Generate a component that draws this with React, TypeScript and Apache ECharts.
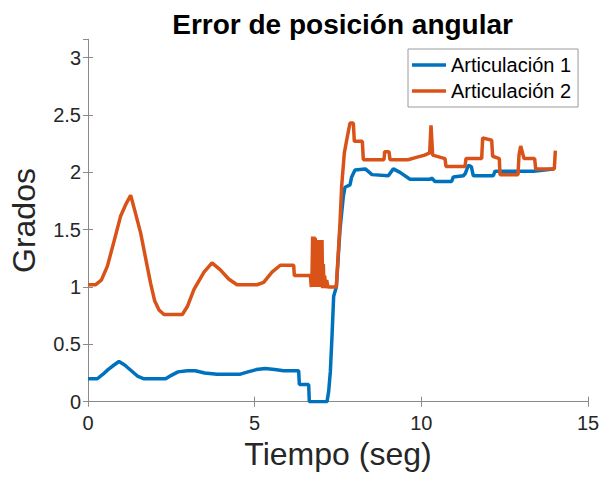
import React, { useEffect, useRef } from "react";
import * as echarts from "echarts";

const title = "Error de posición angular";
const xName = "Tiempo (seg)";
const yName = "Grados";
const seriesNames = ["Articulación 1", "Articulación 2"];

// Articulación 1 (blue)
const tBlue = [
  0, 0.28, 0.45, 0.6, 0.78, 0.93, 1.1, 1.3, 1.5, 1.68, 2.33, 2.5, 2.7, 2.98,
  3.22, 3.5, 3.87, 4.57, 4.8, 5.05, 5.32, 5.6, 5.87, 6.32, 6.34, 6.62, 6.64,
  7.17, 7.22, 7.27, 7.32, 7.37, 7.45, 7.56, 7.66, 7.71, 7.86, 7.91, 8.01, 8.32,
  8.52, 9.01, 9.16, 9.36, 9.66, 10.26, 10.31, 10.41, 10.91, 10.96, 11.26,
  11.32, 11.41, 11.5, 11.56, 12.16, 12.21, 13.36, 13.96,
];
const blueVals = [
  0.2, 0.2, 0.24, 0.28, 0.32, 0.35, 0.32, 0.27, 0.22, 0.2, 0.2, 0.23, 0.26,
  0.27, 0.27, 0.25, 0.24, 0.24, 0.26, 0.28, 0.29, 0.28, 0.27, 0.27, 0.15, 0.15,
  0.0, 0.0, 0.09, 0.26, 0.57, 0.92, 1.0, 1.5, 1.79, 1.87, 1.89, 1.96, 2.02,
  2.03, 1.98, 1.97, 2.03, 2.0, 1.94, 1.94, 1.95, 1.92, 1.92, 1.96, 1.97, 1.99,
  2.06, 2.05, 1.97, 1.97, 2.01, 2.01, 2.03,
];

// Articulación 2 (orange)
const tOrange = [
  0, 0.23, 0.4, 0.58, 0.8, 0.98, 1.15, 1.28, 1.4, 1.58, 1.75, 1.88, 2.0, 2.13,
  2.28, 2.83, 2.98, 3.18, 3.48, 3.72, 3.97, 4.22, 4.47, 5.07, 5.27, 5.52, 5.77,
  6.17, 6.19, 6.67, 6.7, 6.72, 6.74, 6.76, 6.78, 6.8, 6.82, 6.84, 6.86, 6.88,
  6.9, 6.92, 6.94, 6.96, 6.98, 7.0, 7.02, 7.04, 7.06, 7.08, 7.1, 7.13, 7.16,
  7.2, 7.45, 7.56, 7.61, 7.69, 7.76, 7.86, 7.96, 7.99, 8.23, 8.26, 8.88, 8.9,
  9.03, 9.06, 9.6, 9.85, 10.1, 10.25, 10.29, 10.34, 10.71, 10.74, 11.31, 11.34,
  11.81, 11.84, 12.11, 12.14, 12.34, 12.36, 12.9, 12.93, 12.98, 13.08, 13.4,
  13.43, 13.99, 14.02,
];
const orangeVals = [
  1.02, 1.02, 1.06, 1.18, 1.42, 1.62, 1.73, 1.8, 1.67, 1.47, 1.22, 1.03, 0.88,
  0.8, 0.76, 0.76, 0.83, 0.98, 1.13, 1.21, 1.15, 1.07, 1.02, 1.02, 1.04, 1.13,
  1.19, 1.19, 1.1, 1.1, 1.0, 1.1, 1.44, 1.06, 1.44, 1.0, 1.43, 1.05, 1.41, 1.0,
  1.41, 1.04, 1.41, 1.0, 1.4, 1.05, 1.41, 0.99, 1.2, 1.0, 1.1, 0.99, 1.06, 1.0,
  1.0, 1.56, 1.88, 2.17, 2.28, 2.43, 2.43, 2.27, 2.27, 2.11, 2.11, 2.18, 2.18,
  2.11, 2.11, 2.13, 2.15, 2.17, 2.41, 2.15, 2.12, 2.05, 2.05, 2.12, 2.12, 2.3,
  2.28, 2.14, 2.12, 1.98, 1.98, 2.15, 2.23, 2.12, 2.12, 2.03, 2.03, 2.19,
];

const colors = ["#0072BD", "#D95319"];
const FONT = "'Liberation Sans', Arial, Helvetica, sans-serif";
const AXIS_COLOR = "#8a8a8a";
const LABEL_COLOR = "#262626";

export default function App() {
  const ref = useRef<HTMLDivElement>(null);
  useEffect(() => {
    if (!ref.current) return;
    const chart = echarts.init(ref.current, undefined, { renderer: "svg" });
    const axisLine = { show: true, lineStyle: { color: AXIS_COLOR, width: 1 } };
    const axisTick = { show: true, inside: true, length: 5, lineStyle: { color: AXIS_COLOR, width: 1 } };
    chart.setOption({
      animation: false,
      backgroundColor: "#ffffff",
      textStyle: { fontFamily: FONT },
      title: {
        text: title,
        left: 337.6,
        top: 5,
        textAlign: "center",
        textStyle: { fontFamily: FONT, fontSize: 28, fontWeight: "bold", color: "#000" },
      },
      legend: {
        orient: "vertical",
        left: 408,
        top: 49,
        padding: [6, 7, 6, 4],
        itemGap: 6,
        itemWidth: 34,
        itemHeight: 3.5,
        icon: "rect",
        borderColor: "#9a9a9a",
        borderWidth: 1,
        backgroundColor: "#ffffff",
        textStyle: { fontFamily: FONT, fontSize: 20, color: "#000" },
        data: seriesNames,
      },
      grid: { left: 87.3, right: 15, top: 39.3, bottom: 79.3, containLabel: false },
      xAxis: [
        {
          type: "value",
          min: 0,
          max: 15,
          interval: 5,
          position: "bottom",
          axisLine,
          axisTick,
          splitLine: { show: false },
          axisLabel: { fontFamily: FONT, fontSize: 20, color: LABEL_COLOR, margin: 11 },
          name: xName,
          nameLocation: "middle",
          nameGap: 34,
          nameTextStyle: { fontFamily: FONT, fontSize: 32, color: LABEL_COLOR },
        },
        {
          type: "value",
          min: 0,
          max: 15,
          interval: 5,
          position: "top",
          axisLine,
          axisTick,
          splitLine: { show: false },
          axisLabel: { show: false },
        },
      ],
      yAxis: [
        {
          type: "value",
          min: 0,
          max: 3.16,
          interval: 0.5,
          position: "left",
          axisLine,
          axisTick,
          splitLine: { show: false },
          axisLabel: {
            fontFamily: FONT,
            fontSize: 20,
            color: LABEL_COLOR,
            margin: 7,
            showMaxLabel: false,
          },
          name: yName,
          nameLocation: "middle",
          nameGap: 48,
          nameTextStyle: { fontFamily: FONT, fontSize: 32, color: LABEL_COLOR },
        },
        {
          type: "value",
          min: 0,
          max: 3.16,
          interval: 0.5,
          position: "right",
          axisLine,
          axisTick,
          splitLine: { show: false },
          axisLabel: { show: false },
        },
      ],
      series: [
        {
          name: seriesNames[0],
          type: "line",
          xAxisIndex: 0,
          yAxisIndex: 0,
          showSymbol: false,
          symbol: "none",
          color: colors[0],
          lineStyle: { color: colors[0], width: 3.5 },
          data: tBlue.map((t, i) => [t, blueVals[i]]),
        },
        {
          name: seriesNames[1],
          type: "line",
          xAxisIndex: 0,
          yAxisIndex: 0,
          showSymbol: false,
          symbol: "none",
          color: colors[1],
          lineStyle: { color: colors[1], width: 3.5 },
          data: tOrange.map((t, i) => [t, orangeVals[i]]),
        },
      ],
    });
    return () => chart.dispose();
  }, []);
  return (
    <div
      ref={ref}
      style={{ position: "absolute", left: 0, top: 0, width: 603, height: 481, background: "#fff" }}
    />
  );
}
